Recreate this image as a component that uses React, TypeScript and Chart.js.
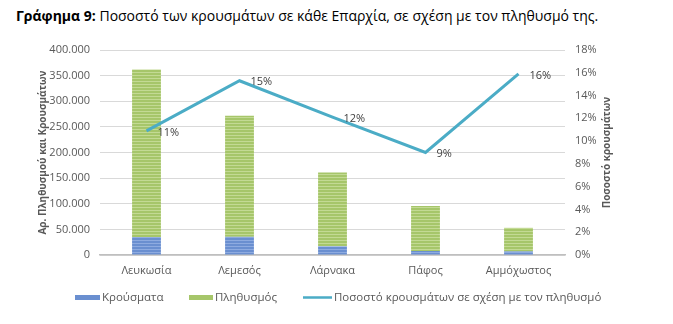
import React, { useEffect, useRef } from "react";
import { Chart, registerables } from "chart.js";

Chart.register(...registerables);

const categories = ["Λευκωσία", "Λεμεσός", "Λάρνακα", "Πάφος", "Αμμόχωστος"];
const cases = [35000, 35500, 17000, 7800, 7000];
const population = [327000, 236000, 144000, 88000, 46000];
const percentages = [0.109, 0.153, 0.121, 0.09, 0.159];
const leftTicks = [0, 50000, 100000, 150000, 200000, 250000, 300000, 350000, 400000];
const rightTicks = [0, 0.02, 0.04, 0.06, 0.08, 0.1, 0.12, 0.14, 0.16, 0.18];

const FONT = "'Open Sans', 'Noto Sans', sans-serif";
const GRAY = "#595959";
const BLUE = "#6a8fd0";
const GREEN = "#a6c66a";
const TEAL = "#4bacc6";

function stripes(base: string, light: string): CanvasPattern | string {
  const c = document.createElement("canvas");
  c.width = 4;
  c.height = 3;
  const g = c.getContext("2d");
  if (!g) return base;
  g.fillStyle = base;
  g.fillRect(0, 0, 4, 3);
  g.fillStyle = light;
  g.fillRect(0, 0, 4, 1);
  const p = g.createPattern(c, "repeat");
  return p || base;
}

function fmtThousands(v: number): string {
  return String(Math.round(v)).replace(/\B(?=(\d{3})+(?!\d))/g, ".");
}

const overlayPlugin = {
  id: "overlay",
  afterDatasetsDraw(chart: any) {
    const ctx = chart.ctx;
    const meta = chart.getDatasetMeta(2);
    ctx.save();
    ctx.font = `11px ${FONT}`;
    ctx.fillStyle = "#404040";
    ctx.textAlign = "left";
    ctx.textBaseline = "middle";
    meta.data.forEach((pt: any, i: number) => {
      ctx.fillText(Math.round(percentages[i] * 100) + "%", pt.x + 11, pt.y + 1.5);
    });
    const area = chart.chartArea;
    const cy = (area.top + area.bottom) / 2;
    ctx.font = `bold 10px ${FONT}`;
    ctx.fillStyle = GRAY;
    ctx.textAlign = "center";
    ctx.textBaseline = "middle";
    ctx.translate(43, cy);
    ctx.rotate(-Math.PI / 2);
    ctx.fillText("Αρ. Πληθυσμού και Κρουσμάτων", 0, 0);
    ctx.restore();
    ctx.save();
    ctx.font = `bold 10px ${FONT}`;
    ctx.fillStyle = GRAY;
    ctx.textAlign = "center";
    ctx.textBaseline = "middle";
    ctx.translate(607, cy);
    ctx.rotate(-Math.PI / 2);
    ctx.fillText("Ποσοστό κρουσμάτων", 0, 0);
    ctx.restore();

    // legend
    const items = [
      { x: 75, w: 25, h: 5, color: BLUE, text: chart.data.datasets[0].label },
      { x: 189, w: 24, h: 5, color: GREEN, text: chart.data.datasets[1].label },
      { x: 303, w: 29, h: 2.5, color: TEAL, text: chart.data.datasets[2].label },
    ];
    const ly = 297.5;
    ctx.save();
    ctx.font = `11.5px ${FONT}`;
    ctx.textAlign = "left";
    ctx.textBaseline = "middle";
    items.forEach((it) => {
      ctx.fillStyle = it.color;
      ctx.fillRect(it.x, ly - it.h / 2, it.w, it.h);
      ctx.fillStyle = GRAY;
      ctx.fillText(it.text, it.x + it.w + 2, ly);
    });
    ctx.restore();
  },
};

export default function App() {
  const ref = useRef<HTMLCanvasElement | null>(null);
  useEffect(() => {
    if (!ref.current) return;
    const blue = stripes(BLUE, "#8eabe0");
    const green = stripes(GREEN, "#c3da94");
    const chart = new Chart(ref.current, {
      type: "bar",
      data: {
        labels: categories,
        datasets: [
          {
            type: "bar",
            label: "Κρούσματα",
            data: cases,
            backgroundColor: blue as any,
            borderWidth: 0,
            stack: "s",
            yAxisID: "y",
            order: 2,
            barPercentage: 0.62,
            categoryPercentage: 0.5,
          },
          {
            type: "bar",
            label: "Πληθυσμός",
            data: population,
            backgroundColor: green as any,
            borderWidth: 0,
            stack: "s",
            yAxisID: "y",
            order: 2,
            barPercentage: 0.62,
            categoryPercentage: 0.5,
          },
          {
            type: "line",
            label: "Ποσοστό κρουσμάτων σε σχέση με τον πληθυσμό",
            data: percentages,
            borderColor: TEAL,
            backgroundColor: TEAL,
            borderWidth: 3,
            pointRadius: 0,
            tension: 0,
            yAxisID: "y1",
            order: 1,
          } as any,
        ],
      },
      options: {
        animation: false,
        responsive: false,
        maintainAspectRatio: false,
        layout: { padding: { top: 50, left: 0, right: 0, bottom: 47 } },
        plugins: {
          tooltip: { enabled: false },
          legend: { display: false },
        },
        scales: {
          x: {
            stacked: true,
            grid: { display: false, drawTicks: false },
            border: { color: "#bfbfbf", width: 1.5 },
            ticks: { font: { family: FONT, size: 11 }, color: GRAY, padding: 9 },
            afterFit: (s: any) => {
              s.height = 22;
            },
          },
          y: {
            type: "linear",
            position: "left",
            stacked: true,
            min: 0,
            max: 400000,
            afterFit: (s: any) => {
              s.width = 100;
            },
            afterBuildTicks: (s: any) => {
              s.ticks = leftTicks.map((v) => ({ value: v }));
            },
            grid: { color: "#d9d9d9", drawTicks: false },
            border: { display: false },
            ticks: {
              font: { family: FONT, size: 11 },
              color: GRAY,
              padding: 10,
              callback: (v: any) => fmtThousands(Number(v)),
            },
          },
          y1: {
            type: "linear",
            position: "right",
            min: 0,
            max: 0.18,
            afterFit: (s: any) => {
              s.width = 108;
            },
            afterBuildTicks: (s: any) => {
              s.ticks = rightTicks.map((v) => ({ value: v }));
            },
            grid: { display: false, drawTicks: false },
            border: { display: false },
            ticks: {
              font: { family: FONT, size: 11 },
              color: GRAY,
              padding: 10,
              callback: (v: any) => Math.round(Number(v) * 100) + "%",
            },
          },
        },
      },
      plugins: [overlayPlugin],
    });
    return () => chart.destroy();
  }, []);

  return (
    <div style={{ position: "absolute", left: 0, top: 0, width: 673, height: 324, background: "#fff" }}>
      <div
        style={{
          position: "absolute",
          left: 16,
          top: 6,
          fontFamily: FONT,
          fontSize: 14,
          lineHeight: "19px",
          color: "#000",
          whiteSpace: "nowrap",
        }}
      >
        <b>Γράφημα 9:</b> Ποσοστό των κρουσμάτων σε κάθε Επαρχία, σε σχέση με τον πληθυσμό της.
      </div>
      <canvas ref={ref} width={673} height={324} style={{ position: "absolute", left: 0, top: 0 }} />
    </div>
  );
}
